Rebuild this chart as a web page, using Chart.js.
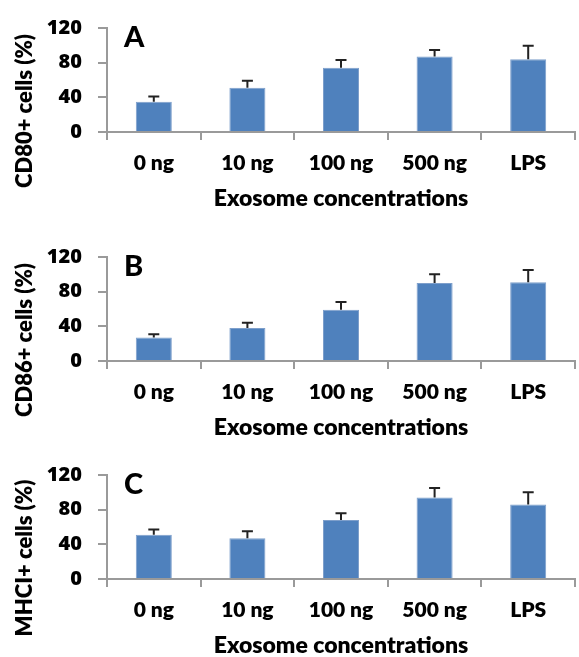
<!DOCTYPE html>
<html>
<head>
<meta charset="utf-8">
<script src="https://cdn.jsdelivr.net/npm/chart.js@4.4.0/dist/chart.umd.min.js"></script>
<style>
  html, body { margin:0; padding:0; background:#fff; overflow:hidden; }
  #wrap { position:relative; width:579px; height:657px; overflow:hidden; }
  #wrap canvas { position:absolute; left:0; }
</style>
</head>
<body>
<div id="wrap">
  <canvas id="chartA" width="579" height="212" style="top:0px"></canvas>
  <canvas id="chartB" width="579" height="212" style="top:229px"></canvas>
  <canvas id="chartC" width="579" height="212" style="top:447px"></canvas>
</div>
<script>
// values
const categories = ['0 ng', '10 ng', '100 ng', '500 ng', 'LPS'];
const cd80Values = [35, 51, 74, 87, 84];
const cd80Errors = [6, 8, 9, 7.5, 15.5];
const cd86Values = [27, 38, 59, 90, 91];
const cd86Errors = [4, 6, 9, 10, 14];
const mhcValues = [51, 47, 68, 94, 86];
const mhcErrors = [6, 8, 8, 11, 14];
const yTicks = [0, 40, 80, 120];
const xTitle = 'Exosome concentrations';

const FONT = 'Lato, "Open Sans", sans-serif';
const NUM_FONT = '"Open Sans", Lato, sans-serif';
const AXIS_COLOR = '#9a9a9a';

// upward-only error bars with a cap
const errorBars = {
  id: 'errorBars',
  afterDatasetsDraw(chart, args, opts) {
    const ctx = chart.ctx;
    const meta = chart.getDatasetMeta(0);
    const y = chart.scales.y;
    const vals = chart.data.datasets[0].data;
    ctx.save();
    ctx.strokeStyle = '#222';
    ctx.lineWidth = 2;
    meta.data.forEach((bar, i) => {
      const y0 = y.getPixelForValue(vals[i]);
      const y1 = y.getPixelForValue(vals[i] + opts.errors[i]);
      ctx.beginPath();
      ctx.moveTo(bar.x, y0);
      ctx.lineTo(bar.x, y1);
      ctx.moveTo(bar.x - 5.5, y1);
      ctx.lineTo(bar.x + 5.5, y1);
      ctx.stroke();
    });
    ctx.restore();
  }
};

// panel letter and the rotated y title
const panelText = {
  id: 'panelText',
  afterDraw(chart, args, opts) {
    const ctx = chart.ctx;
    const top = chart.chartArea.top;
    ctx.save();
    ctx.fillStyle = '#000';
    ctx.font = '900 29px ' + FONT;
    ctx.textBaseline = 'middle';
    ctx.textAlign = 'left';
    ctx.fillText(opts.letter, 124, top + 10);
    ctx.translate(25, top + 83);
    ctx.rotate(-Math.PI / 2);
    ctx.textAlign = 'center';
    ctx.font = '800 22px ' + FONT;
    ctx.fillText(opts.yTitle, 0, 0);
    ctx.restore();
  }
};

function makePanel(id, letter, yTitle, values, errors) {
  new Chart(document.getElementById(id), {
    type: 'bar',
    data: {
      labels: categories,
      datasets: [{
        data: values,
        backgroundColor: '#4F81BD',
        borderColor: '#7E9FCB',
        borderWidth: 1,
        barPercentage: 0.385,
        categoryPercentage: 1
      }]
    },
    options: {
      responsive: false,
      animation: false,
      devicePixelRatio: 1,
      layout: { autoPadding: false, padding: { top: 20, right: 4, left: 0, bottom: 0 } },
      plugins: {
        legend: { display: false },
        tooltip: { enabled: false },
        errorBars: { errors: errors },
        panelText: { letter: letter, yTitle: yTitle }
      },
      scales: {
        x: {
          afterFit(s) { s.height = 80; },
          border: { display: true, color: AXIS_COLOR, width: 2 },
          grid: { offset: true, drawOnChartArea: false, drawTicks: true, tickLength: 8, color: AXIS_COLOR, lineWidth: 2 },
          ticks: { color: '#000', padding: 11, font: { family: FONT, size: 21, weight: '800' } },
          title: { display: true, text: xTitle, color: '#000', padding: { top: 0, bottom: 0 },
                   font: { family: FONT, size: 23, weight: '800' } }
        },
        y: {
          min: 0,
          max: 120,
          afterFit(s) { s.width = 107; },
          afterBuildTicks(s) { s.ticks = yTicks.map(v => ({ value: v })); },
          border: { display: true, color: AXIS_COLOR, width: 2 },
          grid: { drawOnChartArea: false, drawTicks: true, tickLength: 9, color: AXIS_COLOR, lineWidth: 2 },
          ticks: { color: '#000', padding: 16, font: { family: NUM_FONT, size: 20, weight: '800' } }
        }
      }
    },
    plugins: [errorBars, panelText]
  });
}

makePanel('chartA', 'A', 'CD80+ cells (%)', cd80Values, cd80Errors);
makePanel('chartB', 'B', 'CD86+ cells (%)', cd86Values, cd86Errors);
makePanel('chartC', 'C', 'MHCI+ cells (%)', mhcValues, mhcErrors);
</script>
</body>
</html>
